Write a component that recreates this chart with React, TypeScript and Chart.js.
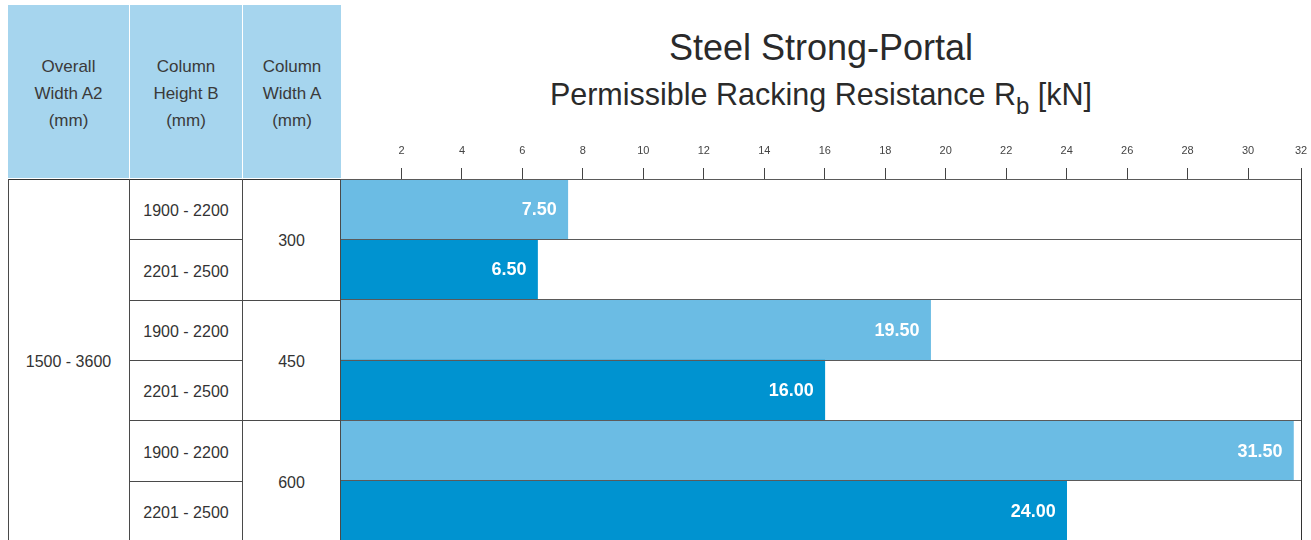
import React, { useEffect, useRef } from 'react';
import { Chart, registerables } from 'chart.js';

Chart.register(...registerables);

// ---------- data ----------
const TITLE = 'Steel Strong-Portal';
const SUBTITLE = 'Permissible Racking Resistance R';
const SUBTITLE_SUB = 'b';
const SUBTITLE_UNIT = ' [kN]';

const HEADERS = [
  ['Overall', 'Width A2', '(mm)'],
  ['Column', 'Height B', '(mm)'],
  ['Column', 'Width A', '(mm)'],
];
const OVERALL_WIDTH = '1500 - 3600';
const COLUMN_WIDTHS = ['300', '450', '600'];
const COLUMN_HEIGHTS = ['1900 - 2200', '2201 - 2500', '1900 - 2200', '2201 - 2500', '1900 - 2200', '2201 - 2500'];
const ROW_KEYS = [
  '300 / 1900 - 2200',
  '300 / 2201 - 2500',
  '450 / 1900 - 2200',
  '450 / 2201 - 2500',
  '600 / 1900 - 2200',
  '600 / 2201 - 2500',
];
const RESISTANCE = [7.5, 6.5, 19.5, 16.0, 31.5, 24.0];

const AXIS_MAX = 31.75;
const TICK_VALUES = [2, 4, 6, 8, 10, 12, 14, 16, 18, 20, 22, 24, 26, 28, 30, AXIS_MAX];
const TICK_LABELS = ['2', '4', '6', '8', '10', '12', '14', '16', '18', '20', '22', '24', '26', '28', '30', '32'];

// ---------- layout / style ----------
const FONT = '"Liberation Sans", Helvetica, Arial, sans-serif';
const LIGHT = '#6BBCE4';
const DARK = '#0093D0';
const HEADER_BLUE = '#A6D5EE';
const LINE = '#4a4a4a';
const TEXT = '#333333';

const TOP_LINE = 179;
const ROW_H = 60.35;
const CANVAS_LEFT = 341;
const CANVAS_W = 970;
const CANVAS_H = 560;
const RIGHT_PAD = 10;

const COLS = [
  { left: 8, right: 129 },
  { left: 130, right: 242 },
  { left: 243, right: 341 },
];

const rowY = (i: number) => TOP_LINE + i * ROW_H;

export default function App() {
  const canvasRef = useRef<HTMLCanvasElement>(null);

  useEffect(() => {
    if (!canvasRef.current) return;

    const valueLabels = {
      id: 'valueLabels',
      afterDatasetsDraw(chart: any) {
        const ctx = chart.ctx;
        const meta = chart.getDatasetMeta(0);
        ctx.save();
        ctx.font = `bold 18px ${FONT}`;
        ctx.fillStyle = '#ffffff';
        ctx.textAlign = 'right';
        ctx.textBaseline = 'middle';
        meta.data.forEach((el: any, i: number) => {
          const p = el.getProps(['x', 'y'], true);
          ctx.fillText(RESISTANCE[i].toFixed(2), p.x - 11, p.y + 1);
        });
        ctx.restore();
      },
    };

    const chart = new Chart(canvasRef.current, {
      type: 'bar',
      data: {
        labels: ROW_KEYS,
        datasets: [
          {
            data: RESISTANCE,
            backgroundColor: RESISTANCE.map((_, i) => (i % 2 === 0 ? LIGHT : DARK)),
            borderWidth: 0,
            barPercentage: 1,
            categoryPercentage: 1,
          },
        ],
      },
      options: {
        indexAxis: 'y',
        responsive: false,
        animation: false,
        layout: {
          padding: { left: 0, right: RIGHT_PAD, top: 0, bottom: CANVAS_H - rowY(6) },
        },
        plugins: {
          legend: { display: false },
          tooltip: { enabled: false },
          title: { display: false },
        },
        scales: {
          x: {
            type: 'linear',
            position: 'top',
            min: 0,
            max: AXIS_MAX,
            afterBuildTicks: (s: any) => {
              s.ticks = TICK_VALUES.map((v) => ({ value: v }));
            },
            afterFit: (s: any) => {
              s.height = TOP_LINE;
              s.paddingLeft = 0;
              s.paddingRight = 0;
            },
            ticks: {
              callback: (_v: any, i: number) => TICK_LABELS[i],
              color: '#444',
              font: { size: 11, family: FONT },
              padding: 10,
              maxRotation: 0,
              autoSkip: false,
            },
            grid: {
              drawOnChartArea: true,
              color: (c: any) => (c.tick && c.tick.value === AXIS_MAX ? '#333' : 'rgba(0,0,0,0)'),
              tickColor: '#444',
              tickLength: 11,
              lineWidth: 1,
            },
            border: { display: true, color: '#333', width: 1 },
          },
          y: {
            type: 'category',
            position: 'left',
            afterFit: (s: any) => {
              s.width = 0;
              s.paddingTop = 0;
              s.paddingBottom = 0;
            },
            ticks: { display: false },
            grid: { offset: true, color: '#5a5a5a', drawTicks: false, z: 1, lineWidth: 1 },
            border: { display: false },
          },
        },
      },
      plugins: [valueLabels],
    } as any);

    return () => chart.destroy();
  }, []);

  const abs = (s: React.CSSProperties): React.CSSProperties => ({ position: 'absolute', ...s });

  const lines: React.ReactNode[] = [];
  lines.push(<div key="top" style={abs({ left: 8, top: TOP_LINE, width: 333, height: 1, background: '#333' })} />);
  [8, 129, 242, 340].forEach((x) =>
    lines.push(<div key={'v' + x} style={abs({ left: x, top: TOP_LINE, width: 1, height: 400, background: LINE })} />)
  );
  for (let i = 1; i < 6; i++) {
    const y = Math.round(rowY(i));
    const right = i % 2 === 0 ? 341 : 242;
    lines.push(<div key={'h' + i} style={abs({ left: 129, top: y, width: right - 129, height: 1, background: LINE })} />);
  }

  const cellText = (key: string, text: string, left: number, right: number, top: number, bottom: number) => (
    <div
      key={key}
      style={abs({
        left,
        width: right - left,
        top: top + 2,
        height: bottom - top,
        display: 'flex',
        alignItems: 'center',
        justifyContent: 'center',
        fontSize: 16,
        color: TEXT,
        whiteSpace: 'nowrap',
      })}
    >
      {text}
    </div>
  );

  return (
    <div
      style={abs({
        left: 0,
        top: 0,
        width: 1311,
        height: 540,
        overflow: 'hidden',
        background: '#fff',
        fontFamily: FONT,
      })}
    >
      {HEADERS.map((h, i) => (
        <div
          key={'hd' + i}
          style={abs({
            left: COLS[i].left,
            width: COLS[i].right - COLS[i].left,
            top: 5,
            height: 173,
            background: HEADER_BLUE,
          })}
        >
          <div
            style={{
              position: 'absolute',
              left: 0,
              right: 0,
              top: 4,
              bottom: 0,
              display: 'flex',
              flexDirection: 'column',
              alignItems: 'center',
              justifyContent: 'center',
              fontSize: 17,
              lineHeight: '27px',
              color: '#3a3a3a',
            }}
          >
            {h.map((t, j) => (
              <div key={j}>{t}</div>
            ))}
          </div>
        </div>
      ))}

      <div
        style={abs({
          left: CANVAS_LEFT,
          width: 1301 - CANVAS_LEFT,
          top: 28,
          textAlign: 'center',
          fontSize: 36,
          lineHeight: '40px',
          color: '#2a2a2a',
          whiteSpace: 'nowrap',
        })}
      >
        {TITLE}
      </div>
      <div
        style={abs({
          left: CANVAS_LEFT,
          width: 1301 - CANVAS_LEFT,
          top: 76,
          textAlign: 'center',
          fontSize: 30.5,
          lineHeight: '36px',
          color: '#2a2a2a',
          whiteSpace: 'nowrap',
        })}
      >
        {SUBTITLE}
        <span style={{ fontSize: 24, position: 'relative', top: 9 }}>{SUBTITLE_SUB}</span>
        {SUBTITLE_UNIT}
      </div>

      {cellText('ow', OVERALL_WIDTH, COLS[0].left, COLS[0].right, rowY(0), rowY(6))}
      {COLUMN_HEIGHTS.map((t, i) => cellText('ch' + i, t, COLS[1].left, COLS[1].right, rowY(i), rowY(i + 1)))}
      {COLUMN_WIDTHS.map((t, i) => cellText('cw' + i, t, COLS[2].left, COLS[2].right - 1, rowY(i * 2), rowY(i * 2 + 2)))}
      {lines}

      <canvas
        ref={canvasRef}
        width={CANVAS_W}
        height={CANVAS_H}
        style={abs({ left: CANVAS_LEFT, top: 0, width: CANVAS_W, height: CANVAS_H })}
      />
    </div>
  );
}
